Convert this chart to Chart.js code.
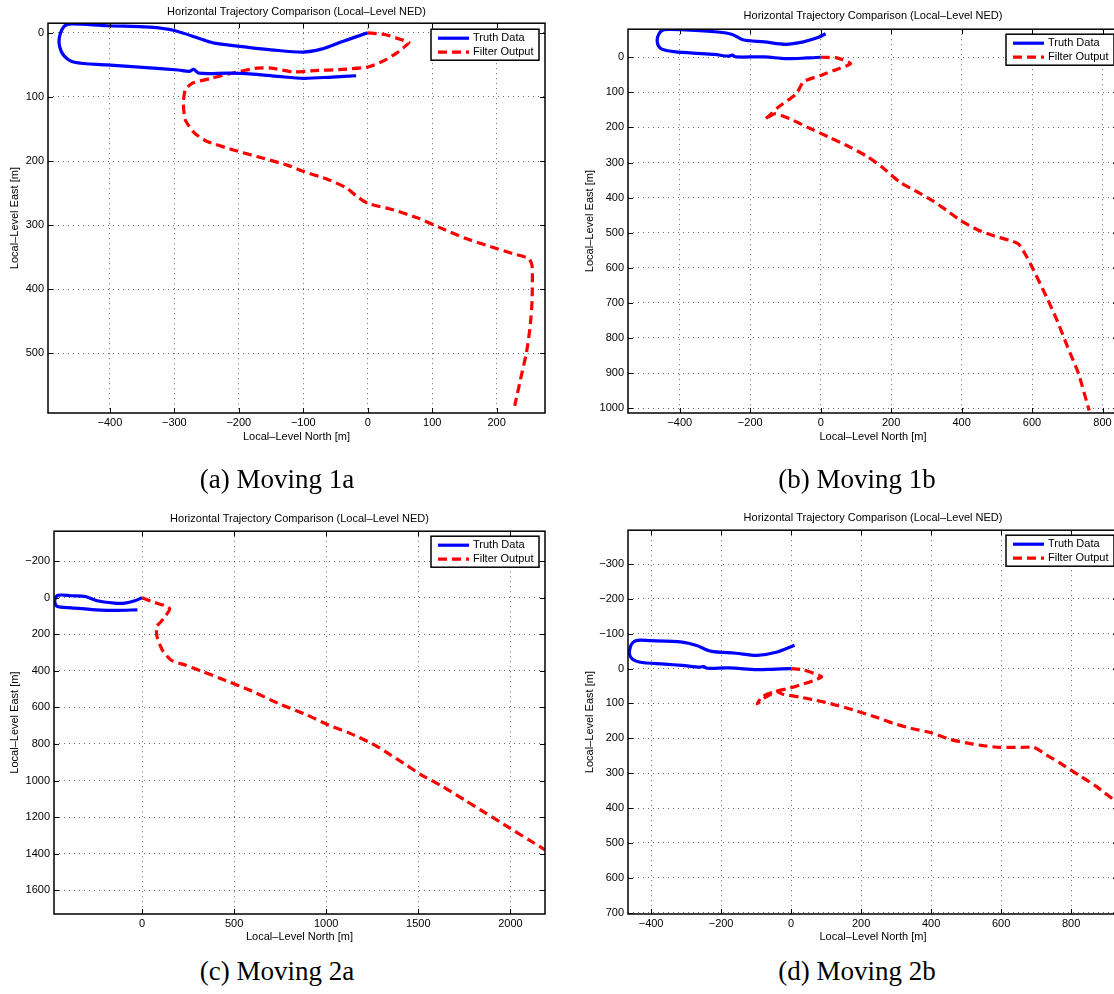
<!DOCTYPE html>
<html>
<head>
<meta charset="utf-8">
<title>Horizontal Trajectory Comparison</title>
<script src="https://cdn.jsdelivr.net/npm/chart.js@4"></script>
<style>
  body { margin: 0; background: #fff; width: 1114px; height: 994px; overflow: hidden; position: relative; }
  canvas { position: absolute; }
  .caption { position: absolute; width: 300px; margin-left: -150px; text-align: center;
             font-family: 'Liberation Serif', 'Times New Roman', serif; font-size: 27px; line-height: 30px; color: #000; }
</style>
</head>
<body>
<canvas id="moving1a" width="557" height="450" style="left:0;top:0"></canvas>
<canvas id="moving1b" width="563" height="450" style="left:557px;top:0"></canvas>
<canvas id="moving2a" width="557" height="460" style="left:0;top:490px"></canvas>
<canvas id="moving2b" width="563" height="460" style="left:557px;top:490px"></canvas>
<div class="caption" style="left:277px;top:464px">(a) Moving 1a</div>
<div class="caption" style="left:857px;top:464px">(b) Moving 1b</div>
<div class="caption" style="left:277px;top:956px">(c) Moving 2a</div>
<div class="caption" style="left:857px;top:956px">(d) Moving 2b</div>
<script>
// Moving 1a
const truthNorth1a = [0, -39, -72, -101, -150, -183, -238, -255, -300, -338, -405, -460, -471, -478, -478, -471, -455, -405, -349, -294, -277, -270, -262, -216, -183, -139, -100, -55, -18];
const truthEast1a = [0, 13.5, 25.5, 30, 26.5, 23, 16, 11, -3.6, -9, -11, -14, -10, 5.7, 21, 36, 46, 50, 54, 58, 60, 57, 63, 63, 64, 68, 71, 69, 67];
const filterNorth1a = [0, 28, 50, 64, 44, 22, 0, -39, -83, -116, -150, -172, -211, -243, -272, -283, -286, -283, -269, -250, -211, -172, -126, -100, -61, -33, -17, 0, 39, 78, 111, 150, 189, 227, 250, 255, 255, 252, 246, 238, 228];
const filterEast1a = [0, 3, 10, 15, 32, 45, 53.5, 57, 59, 61, 55, 55, 63, 71, 78.5, 89, 110, 136, 156, 169, 182, 193, 206, 216, 229, 242, 255, 266, 276, 289, 303.5, 320, 333, 345, 352, 364, 416, 458, 500, 536, 582];
const northTicks1a = [-400, -300, -200, -100, 0, 100, 200];
const eastTicks1a = [0, 100, 200, 300, 400, 500];

// Moving 1b
const truthNorth1b = [0, -38.5, -99, -160, -241, -251, -262, -302, -363, -424, -454, -464, -459, -444, -383, -292, -251, -221, -160, -99, -49, -8, 14];
const truthEast1b = [0, 2, 4, -1, -1, -6, -3, -8, -12, -17, -25, -44, -67, -79, -78, -72, -65, -50, -44, -37, -44, -56, -67];
const filterNorth1b = [0, 43, 63, 85, 53, 2, -49, -69, -120, -140, -158, -130, -89, -38.5, 22, 83, 134, 174, 225, 266, 316, 357, 397, 448, 489, 560, 580, 600, 641, 671, 701, 732, 762];
const filterEast1b = [0, 1, 7, 18, 32, 51, 70, 104, 142, 161, 177, 161, 175, 199, 227, 256, 284, 313, 356, 379, 408, 436, 465, 493, 508, 531, 560, 598, 683, 750, 826, 902, 1007];
const northTicks1b = [-400, -200, 0, 200, 400, 600, 800];
const eastTicks1b = [0, 100, 200, 300, 400, 500, 600, 700, 800, 900, 1000];

// Moving 2a
const truthNorth2a = [0, -35, -93, -151, -249, -307, -384, -458, -474, -462, -384, -249, -132, -25];
const truthEast2a = [0, 15, 29, 29, 15, -7, -11, -13, 15, 47, 55, 66, 69, 66];
const filterNorth2a = [0, 62, 120, 150, 130, 101, 78, 82, 111, 159, 237, 334, 450, 586, 742, 897, 1014, 1130, 1247, 1324, 1421, 1518, 1635, 1751, 1868, 1984, 2101, 2188];
const filterEast2a = [0, 24, 42, 60, 96, 133, 160, 215, 288, 342, 369, 406, 451, 506, 579, 642, 697, 742, 797, 843, 906, 970, 1034, 1106, 1179, 1252, 1325, 1379];
const northTicks2a = [0, 500, 1000, 1500, 2000];
const eastTicks2a = [-200, 0, 200, 400, 600, 800, 1000, 1200, 1400, 1600];

// Moving 2b
const truthNorth2b = [0, -56, -97, -179, -240, -250, -260, -311, -362, -434, -459, -459, -444, -403, -311, -270, -230, -158, -97, -46, 10];
const truthEast2b = [0, 2, 3, -2, -1, -6, -4, -9, -13, -19, -34, -63, -80, -80, -76, -66, -50, -44, -38, -46, -67];
const filterNorth2b = [0, 36, 87, 66, 26, -5, -46, -82, -97, -77, -41, -26, 26, 66, 107, 179, 250, 291, 342, 403, 454, 505, 556, 597, 658, 694, 730, 770, 821, 872, 930];
const filterEast2b = [0, 4, 23, 34, 47, 56, 66, 80, 101, 85, 66, 73, 82, 90, 99, 119, 142, 157, 171, 185, 203, 214, 222, 226, 226, 226, 248, 272, 305, 338, 383];
const northTicks2b = [-400, -200, 0, 200, 400, 600, 800];
const eastTicks2b = [-300, -200, -100, 0, 100, 200, 300, 400, 500, 600, 700];

Chart.defaults.font.family = "'Liberation Sans', Arial, sans-serif";
Chart.defaults.font.size = 11;
Chart.defaults.color = '#000';

const toPoints = (xs, ys) => xs.map((x, i) => ({ x, y: ys[i] }));
const fmt = v => (v < 0 ? '\u2212' + (-v) : String(v));

// axes box, inward tick marks and the boxed key in the upper right corner
const frameAndKey = {
  id: 'frameAndKey',
  afterDraw(chart, args, opts) {
    const { ctx, chartArea: a } = chart;
    const xs = chart.scales.x, ys = chart.scales.y;
    ctx.save();
    ctx.strokeStyle = '#000';
    ctx.lineWidth = 1;
    ctx.beginPath();
    for (const t of xs.ticks) {
      const p = Math.round(xs.getPixelForValue(t.value)) + 0.5;
      ctx.moveTo(p, a.bottom); ctx.lineTo(p, a.bottom - 5);
      ctx.moveTo(p, a.top); ctx.lineTo(p, a.top + 5);
    }
    for (const t of ys.ticks) {
      const p = Math.round(ys.getPixelForValue(t.value)) + 0.5;
      ctx.moveTo(a.left, p); ctx.lineTo(a.left + 5, p);
      ctx.moveTo(a.right, p); ctx.lineTo(a.right - 5, p);
    }
    ctx.stroke();
    ctx.lineWidth = 1.5;
    ctx.strokeRect(a.left, a.top, a.right - a.left, a.bottom - a.top);

    const w = 108, h = 31;
    const bx = a.right - opts.right - w, by = a.top + opts.top;
    ctx.fillStyle = '#fff';
    ctx.fillRect(bx, by, w, h);
    ctx.strokeRect(bx, by, w, h);
    ctx.font = "11px 'Liberation Sans', Arial, sans-serif";
    ctx.textBaseline = 'middle';
    chart.data.datasets.forEach((ds, i) => {
      const yy = by + 9 + i * 14;
      ctx.strokeStyle = ds.borderColor;
      ctx.lineWidth = ds.borderWidth;
      ctx.setLineDash(ds.borderDash || []);
      ctx.beginPath();
      ctx.moveTo(bx + 7, yy);
      ctx.lineTo(bx + 38, yy);
      ctx.stroke();
      ctx.setLineDash([]);
      ctx.fillStyle = '#000';
      ctx.fillText(ds.label, bx + 42, yy);
    });
    ctx.restore();
  }
};

function axis(ticks, min, max, extra) {
  return Object.assign({
    type: 'linear',
    min, max,
    afterBuildTicks: s => { s.ticks = ticks.map(value => ({ value })); },
    grid: { color: 'rgba(0,0,0,0.6)', lineWidth: 1, drawTicks: false },
    border: { display: false, dash: [1, 4] },
    ticks: { callback: fmt, padding: 4, color: '#000', maxRotation: 0, autoSkip: false }
  }, extra);
}

function trajectoryChart(id, d, box) {
  return new Chart(document.getElementById(id), {
    type: 'scatter',
    data: {
      datasets: [
        {
          label: 'Truth Data',
          data: toPoints(d.truthNorth, d.truthEast),
          showLine: true,
          borderColor: '#0000ff',
          borderWidth: 3.2,
          pointRadius: 0,
          tension: 0.3
        },
        {
          label: 'Filter Output',
          data: toPoints(d.filterNorth, d.filterEast),
          showLine: true,
          borderColor: '#ff0000',
          borderWidth: 3.2,
          borderDash: [9, 5],
          pointRadius: 0,
          tension: 0.2
        }
      ]
    },
    options: {
      responsive: false,
      animation: false,
      devicePixelRatio: 1,
      layout: { padding: { left: 0, top: 0, right: box.padRight, bottom: 0 } },
      plugins: {
        legend: { display: false },
        tooltip: { enabled: false },
        title: {
          display: true,
          text: 'Horizontal Trajectory Comparison (Local\u2013Level NED)',
          fullSize: false,
          color: '#000',
          font: { size: 11, weight: 'normal' },
          padding: { top: box.titleTop, bottom: box.titleBottom }
        },
        frameAndKey: { right: box.keyRight, top: box.keyTop }
      },
      scales: {
        x: axis(d.northTicks, d.northMin, d.northMax, {
          position: 'bottom',
          afterFit: s => { s.height = box.xHeight; },
          ticks: { callback: fmt, padding: 3, color: '#000', maxRotation: 0, autoSkip: false },
          title: { display: true, text: 'Local\u2013Level North [m]', color: '#000', font: { size: 11 }, padding: { top: 0, bottom: 6 } }
        }),
        y: axis(d.eastTicks, d.eastMin, d.eastMax, {
          position: 'left',
          reverse: true,
          afterFit: s => { s.width = box.yWidth; },
          title: { display: true, text: 'Local\u2013Level East [m]', color: '#000', font: { size: 11 }, padding: { top: box.yTitle, bottom: 0 } }
        })
      }
    },
    plugins: [frameAndKey]
  });
}

trajectoryChart('moving1a', {
  truthNorth: truthNorth1a, truthEast: truthEast1a,
  filterNorth: filterNorth1a, filterEast: filterEast1a,
  northTicks: northTicks1a, eastTicks: eastTicks1a,
  northMin: -496, northMax: 275, eastMin: -15, eastMax: 593
}, { padRight: 12, titleTop: 5, titleBottom: 5, xHeight: 37, yWidth: 48, yTitle: 8, keyRight: 6, keyTop: 6 });

trajectoryChart('moving1b', {
  truthNorth: truthNorth1b, truthEast: truthEast1b,
  filterNorth: filterNorth1b, filterEast: filterEast1b,
  northTicks: northTicks1b, eastTicks: eastTicks1b,
  northMin: -547, northMax: 844, eastMin: -80, eastMax: 1014
}, { padRight: 2, titleTop: 9, titleBottom: 7, xHeight: 37, yWidth: 71, yTitle: 26, keyRight: 4, keyTop: 5 });

trajectoryChart('moving2a', {
  truthNorth: truthNorth2a, truthEast: truthEast2a,
  filterNorth: filterNorth2a, filterEast: filterEast2a,
  northTicks: northTicks2a, eastTicks: eastTicks2a,
  northMin: -478, northMax: 2188, eastMin: -364, eastMax: 1730
}, { padRight: 12, titleTop: 22, titleBottom: 6, xHeight: 36, yWidth: 54, yTitle: 8, keyRight: 6, keyTop: 5 });

trajectoryChart('moving2b', {
  truthNorth: truthNorth2b, truthEast: truthEast2b,
  filterNorth: filterNorth2b, filterEast: filterEast2b,
  northTicks: northTicks2b, eastTicks: eastTicks2b,
  northMin: -466, northMax: 934, eastMin: -397, eastMax: 704
}, { padRight: 2, titleTop: 21, titleBottom: 6, xHeight: 36, yWidth: 71, yTitle: 26, keyRight: 4, keyTop: 5 });
</script>
</body>
</html>
